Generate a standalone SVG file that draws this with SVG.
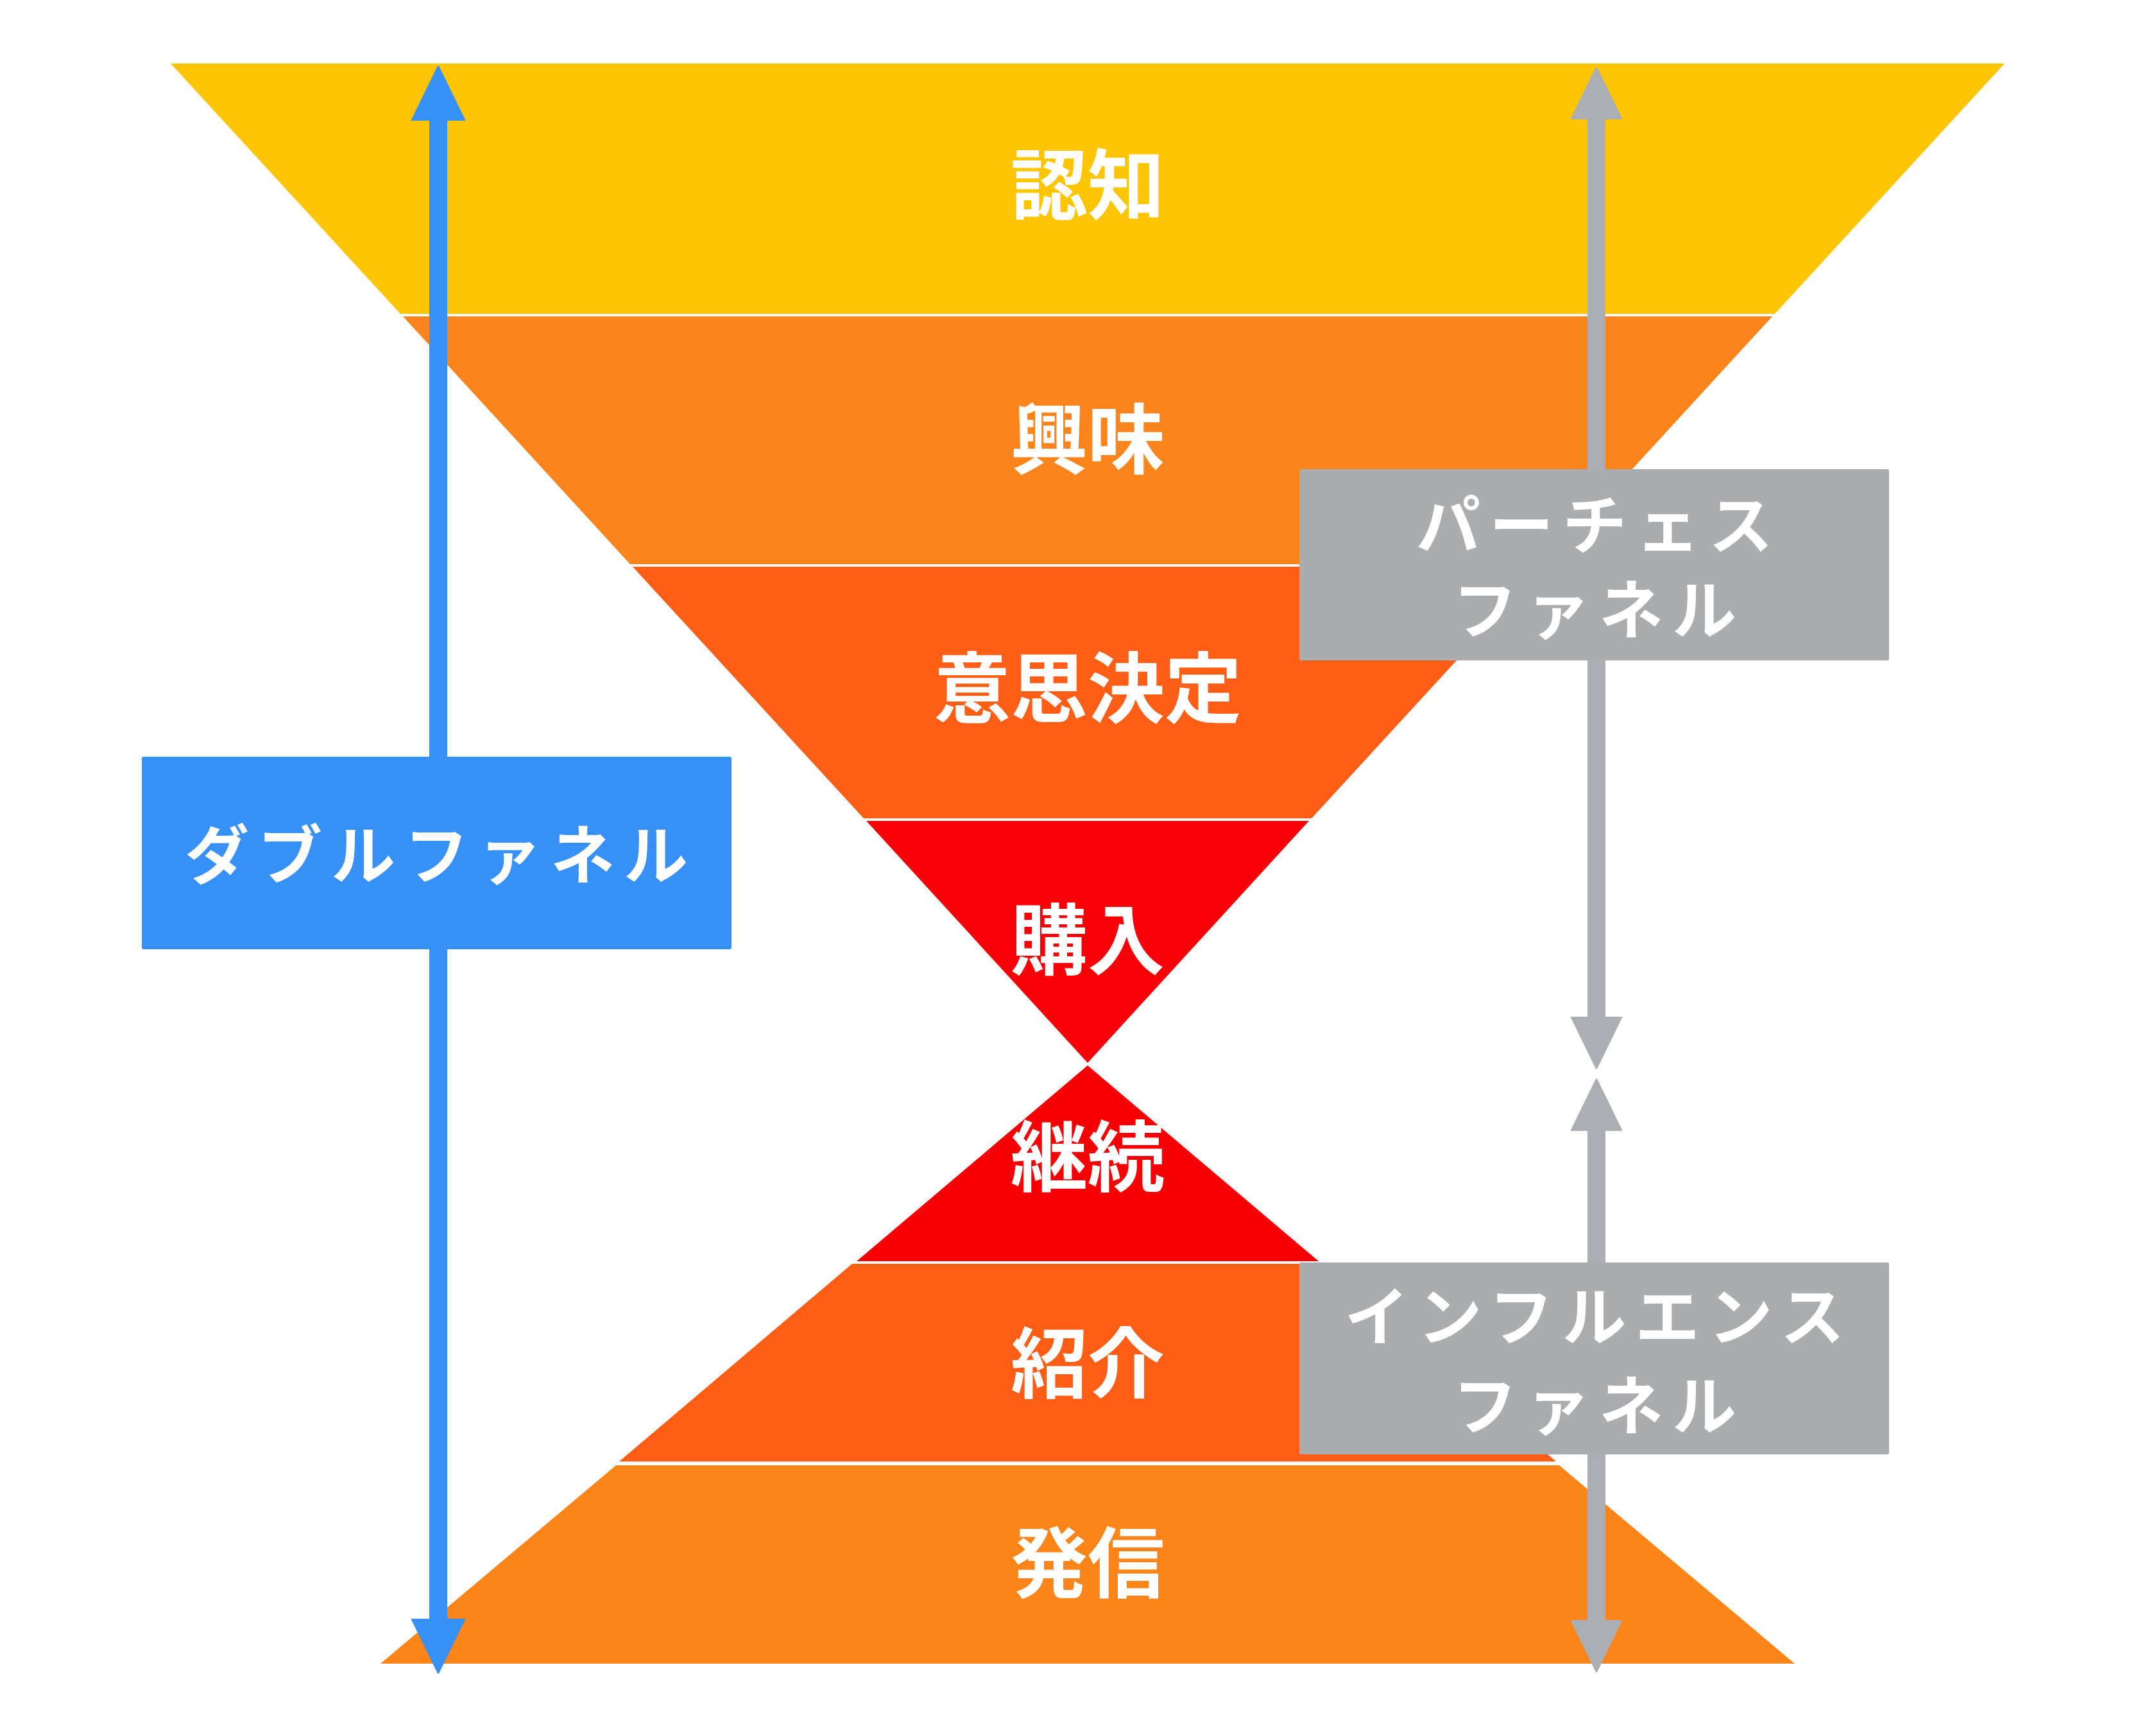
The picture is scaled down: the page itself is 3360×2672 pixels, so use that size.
<svg xmlns="http://www.w3.org/2000/svg" width="3360" height="2672" viewBox="0 0 3360 2672">
  <style>
    .band-label { font-family: "Noto Sans CJK JP", "Noto Sans", sans-serif; font-weight: 700; font-size: 120px; fill: #ffffff; text-anchor: middle; dominant-baseline: central; }
    .box-label { font-family: "Noto Sans CJK JP", "Noto Sans", sans-serif; font-weight: 700; font-size: 100px; letter-spacing: 14px; fill: #ffffff; text-anchor: middle; dominant-baseline: central; }
    .blue-line { stroke: #3790F5; stroke-width: 28; fill: none; }
    .gray-line { stroke: #ABAEB3; stroke-width: 28; fill: none; }
  </style>
  <defs>
    <marker id="head-blue" viewBox="0 -44 88 88" refX="2" refY="0" markerWidth="88" markerHeight="88" markerUnits="userSpaceOnUse" orient="auto-start-reverse">
      <path d="M0,-41 L84,0 L0,41 Z" fill="#3790F5" stroke="#3790F5" stroke-width="3" stroke-linejoin="round"/>
    </marker>
    <marker id="head-gray" viewBox="0 -42 84 84" refX="2" refY="0" markerWidth="84" markerHeight="84" markerUnits="userSpaceOnUse" orient="auto-start-reverse">
      <path d="M0,-39 L80,0 L0,39 Z" fill="#ABAEB3" stroke="#ABAEB3" stroke-width="3" stroke-linejoin="round"/>
    </marker>
  </defs>
  <rect width="3360" height="2672" fill="#ffffff"/>

  <g id="funnel-top">
    <g id="band-ninchi">
      <polygon points="266,99 3124,99 2766,489 624,489" fill="#FDC503"/>
      <text class="band-label" x="1695" y="281">認知</text>
    </g>
    <g id="band-kyomi">
      <polygon points="628,493 2762,493 2408,879 982,879" fill="#FC841C"/>
      <text class="band-label" x="1695" y="677">興味</text>
    </g>
    <g id="band-ishikettei">
      <polygon points="986,883 2404,883 2044,1275 1346,1275" fill="#FE5E16"/>
      <text class="band-label" x="1695" y="1065">意思決定</text>
    </g>
    <g id="band-konyu">
      <polygon points="1350,1279 2040,1279 1695,1656" fill="#F80008"/>
      <text class="band-label" x="1695" y="1457">購入</text>
    </g>
  </g>

  <g id="funnel-bottom">
    <g id="band-keizoku">
      <polygon points="1695,1660 2055,1965 1335,1965" fill="#F60006"/>
      <text class="band-label" x="1695" y="1795">継続</text>
    </g>
    <g id="band-shokai">
      <polygon points="1328,1969 2062,1969 2425,2277 965,2277" fill="#FE5D15"/>
      <text class="band-label" x="1695" y="2117">紹介</text>
    </g>
    <g id="band-hasshin">
      <polygon points="960,2283 2430,2283 2797,2592 593,2592" fill="#FC8519"/>
      <text class="band-label" x="1695" y="2428">発信</text>
    </g>
  </g>

  <g id="connectors">
    <line class="blue-line" x1="683" y1="186" x2="683" y2="2524" marker-start="url(#head-blue)" marker-end="url(#head-blue)"/>
    <line class="gray-line" x1="2488" y1="184" x2="2488" y2="1586" marker-start="url(#head-gray)" marker-end="url(#head-gray)"/>
    <line class="gray-line" x1="2488" y1="1760" x2="2488" y2="2526" marker-start="url(#head-gray)" marker-end="url(#head-gray)"/>
  </g>

  <g id="box-double-funnel">
    <rect x="221" y="1179" width="919" height="300" rx="3" fill="#3790F5"/>
    <text class="box-label" x="687" y="1325">ダブルファネル</text>
  </g>
  <g id="box-purchase-funnel">
    <rect x="2025" y="731" width="919" height="298" rx="3" fill="#ABACAE"/>
    <text class="box-label" x="2492" y="811">パーチェス</text>
    <text class="box-label" x="2492" y="943">ファネル</text>
  </g>
  <g id="box-influence-funnel">
    <rect x="2025" y="1967" width="919" height="299" rx="3" fill="#ABACAE"/>
    <text class="box-label" x="2492" y="2044">インフルエンス</text>
    <text class="box-label" x="2492" y="2183">ファネル</text>
  </g>
</svg>
